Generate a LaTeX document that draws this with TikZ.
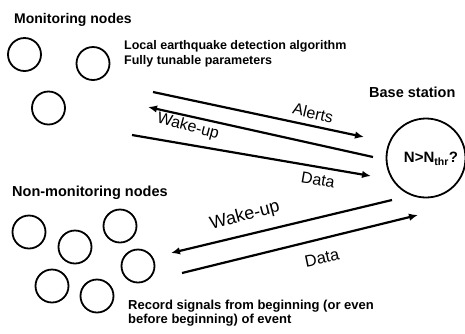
\documentclass[tikz,border=0pt]{standalone}
\usepackage{fontspec}
\setmainfont{Liberation Sans}
\usetikzlibrary{arrows.meta}
\begin{document}
\begin{tikzpicture}[x=1pt,y=-1pt,
  sn/.style={circle,draw,line width=1.8pt,minimum size=33pt,inner sep=0pt},
  head/.style={font=\fontsize{14.5}{17}\selectfont\bfseries,inner sep=0pt,anchor=base west},
  note/.style={font=\fontsize{12.5}{15}\selectfont\bfseries,inner sep=0pt,anchor=north west,align=left},
  lbl/.style={font=\fontsize{16}{18}\selectfont,inner sep=0pt},
  msg/.style={line width=2.2pt},
  tip/.style={-{Latex[length=9pt,width=7.5pt]}}
]
\useasboundingbox (0,0) rectangle (465,333);

% headings
\node[head,font=\fontsize{14}{17}\selectfont\bfseries] (mon) at (14,23.5) {Monitoring nodes};
\node[note] (alg) at (124,40) {Local earthquake detection algorithm\\Fully tunable parameters};
\node[head] (bst) at (369,97.5) {Base station};
\node[head] (non) at (12,196) {Non-monitoring nodes};
\node[note,font=\fontsize{13}{14}\selectfont\bfseries] (rec) at (128,299.5) {Record signals from beginning (or even\\before beginning) of event};

% monitoring nodes
\node[sn] (m1) at (24.5,54.5) {};
\node[sn] (m2) at (93,63.5) {};
\node[sn] (m3) at (48.5,108) {};

% non-monitoring nodes
\node[sn] (n1) at (29,232) {};
\node[sn] (n2) at (75,247) {};
\node[sn] (n3) at (120,226) {};
\node[sn] (n4) at (138,266) {};
\node[sn] (n5) at (52,286) {};
\node[sn] (n6) at (97,296) {};

% base station
\node[circle,draw,line width=1.8pt,minimum size=79pt,inner sep=0pt] (bs) at (426,158) {};
\node[font=\fontsize{15}{17}\selectfont\bfseries,inner sep=0pt] (thr) at (431,159) {N>N\textsubscript{thr}?};

% message endpoints
\coordinate (a1) at (153,92);   \coordinate (a2) at (364,137);
\coordinate (w1) at (373,157);  \coordinate (w2) at (148,107);
\coordinate (d1) at (132,135);  \coordinate (d2) at (371,176);
\coordinate (u1) at (392,200);  \coordinate (u2) at (171,253);
\coordinate (e1) at (182,273);  \coordinate (e2) at (418,215);

\draw[msg,tip] (a1) -- (a2);
\draw[msg,tip] (w1) -- (w2);
\draw[msg,tip] (d1) -- (d2);
\draw[msg,tip] (u1) -- (u2);
\draw[msg,tip] (e1) -- (e2);

% labels
\node[lbl,rotate=-13] (la) at (313,113) {Alerts};
\node[lbl,rotate=-15] (lw) at (188,127) {Wake-up};
\node[lbl,rotate=-10] (ld) at (318,180) {Data};
\node[lbl,rotate=15,font=\fontsize{18}{20}\selectfont] (lw2) at (245,216) {Wake-up};
\node[lbl,rotate=12,font=\fontsize{16.5}{18}\selectfont] (ld2) at (322,258) {Data};
\end{tikzpicture}
\end{document}
